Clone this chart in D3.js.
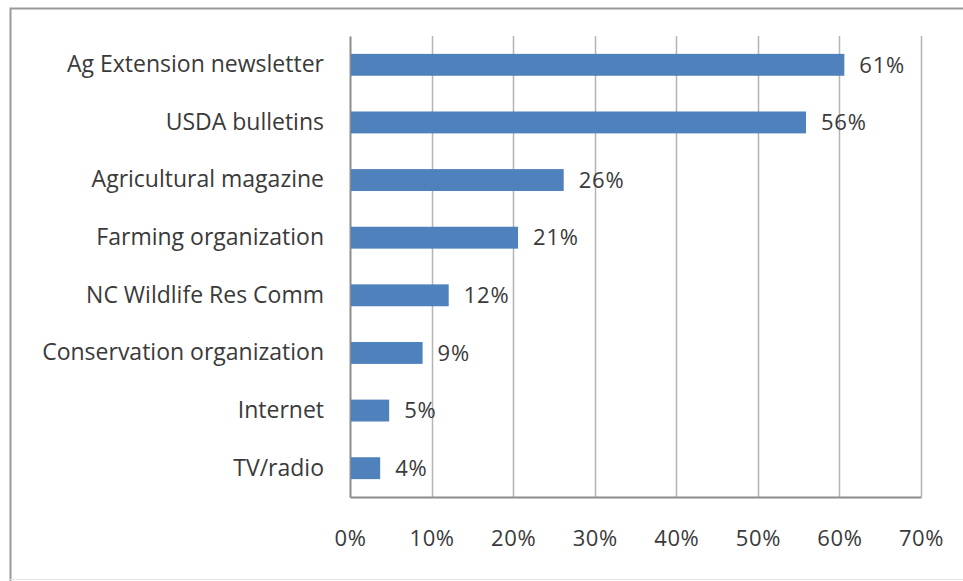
<!DOCTYPE html>
<html>
<head>
<meta charset="utf-8">
<script src="https://cdn.jsdelivr.net/npm/d3@7"></script>
<style>
  body { margin: 0; background: #fff; }
  text { font-family: "Open Sans", sans-serif; fill: #3a3a3a; }
</style>
</head>
<body>
<svg id="chart" width="963" height="581"></svg>
<script>
const categories = [
  'Ag Extension newsletter',
  'USDA bulletins',
  'Agricultural magazine',
  'Farming organization',
  'NC Wildlife Res Comm',
  'Conservation organization',
  'Internet',
  'TV/radio',
];
const shares = [0.606, 0.559, 0.262, 0.206, 0.121, 0.089, 0.048, 0.037];
const xTicks = [0, 0.1, 0.2, 0.3, 0.4, 0.5, 0.6, 0.7];

const BAR_COLOR = '#4f81bd';
const margin = { left: 350, right: 42, top: 36, bottom: 84 };

const svg = d3.select('#chart');
const W = +svg.attr('width');
const H = +svg.attr('height');
const chartW = W - margin.left - margin.right;
const chartH = H - margin.top - margin.bottom;

// outer frame of the pasted chart
svg.append('path')
  .attr('d', `M ${W} 8.5 H 10.5 V ${H}`)
  .attr('fill', 'none')
  .attr('stroke', '#9a9a9a')
  .attr('stroke-width', 2);
svg.append('line')
  .attr('x1', 10).attr('x2', W)
  .attr('y1', 579.5).attr('y2', 579.5)
  .attr('stroke', '#e4e4e4');

const g = svg.append('g')
  .attr('transform', `translate(${margin.left}, ${margin.top})`);

const x = d3.scaleLinear().domain([0, 0.7]).range([0, chartW]);
const y = d3.scaleBand().domain(categories).range([0, chartH]).paddingInner(0.62).paddingOuter(0.31);

// gridlines
g.append('g')
  .selectAll('line')
  .data(xTicks.slice(1))
  .join('line')
    .attr('x1', d => Math.round(x(d)) + 0.5)
    .attr('x2', d => Math.round(x(d)) + 0.5)
    .attr('y1', 0)
    .attr('y2', chartH)
    .attr('stroke', '#b4b4b4')
    .attr('stroke-width', 1.5);

// x axis
const xAxis = d3.axisBottom(x)
  .tickValues(xTicks)
  .tickSize(0)
  .tickPadding(33)
  .tickFormat(d3.format('.0%'));

g.append('g')
  .attr('transform', `translate(0, ${chartH})`)
  .call(xAxis)
  .call(s => s.select('.domain').attr('stroke', '#8c8c8c').attr('stroke-width', 2))
  .call(s => s.selectAll('text')
    .style('font-size', '22px')
    .style('letter-spacing', '0.6px')
    .attr('fill', '#3a3a3a'));

// y axis
const yAxis = d3.axisLeft(y)
  .tickSize(0)
  .tickPadding(26);

g.append('g')
  .call(yAxis)
  .call(s => s.select('.domain').attr('stroke', '#8c8c8c').attr('stroke-width', 2))
  .call(s => s.selectAll('text').style('font-size', '23px').attr('fill', '#3a3a3a'));

// bars
g.append('g')
  .selectAll('rect')
  .data(categories)
  .join('rect')
    .attr('x', 1)
    .attr('y', d => y(d))
    .attr('width', (d, i) => x(shares[i]) - 1)
    .attr('height', y.bandwidth())
    .attr('fill', BAR_COLOR);

// value labels
g.append('g')
  .selectAll('text')
  .data(categories)
  .join('text')
    .attr('x', (d, i) => x(shares[i]) + 15)
    .attr('y', d => y(d) + y.bandwidth() / 2)
    .attr('dy', '0.35em')
    .style('font-size', '22px')
    .style('letter-spacing', '0.8px')
    .text((d, i) => d3.format('.0%')(shares[i]));
</script>
</body>
</html>
